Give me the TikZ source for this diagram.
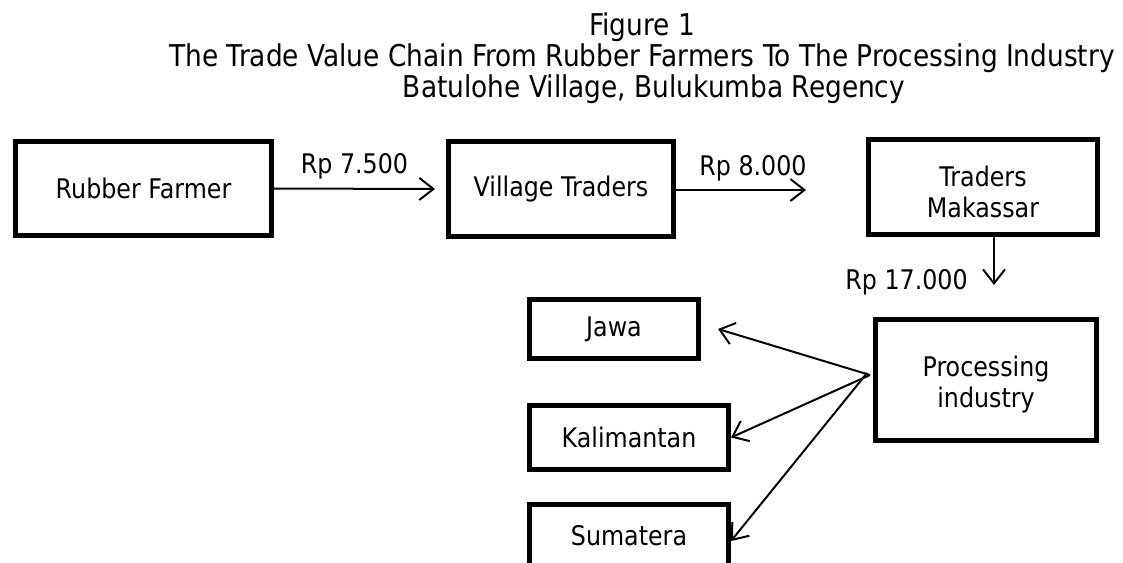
\documentclass[tikz,border=0pt]{standalone}
\usepackage{fontspec}
\setmainfont{DejaVu Sans}[FakeStretch=0.88]
\usetikzlibrary{arrows.meta}
\tikzset{
  chainbox/.style={draw, line width=5pt, inner sep=0pt, align=center,
    font=\fontsize{27}{31}\selectfont},
  flow/.style={line width=2pt, -{Straight Barb[length=14pt,width=22pt,line width=2pt]}},
  price/.style={font=\fontsize{27}{31}\selectfont}
}
\begin{document}
\begin{tikzpicture}[x=1pt,y=-1pt]
  \useasboundingbox (0,0) rectangle (1123,562);
  \clip (0,0) rectangle (1123,562);
  % title
  \node (title) at (642,58) [align=center, font=\fontsize{30}{31}\selectfont]
    {Figure 1\\The Trade Value Chain From Rubber Farmers To The Processing Industry\\\hspace*{24pt}Batulohe Village, Bulukumba Regency};
  % chain
  \node (farmer) at (143.5,188.5) [chainbox, minimum width=256pt, minimum height=94pt] {Rubber Farmer};
  \node (village) at (561,189) [chainbox, minimum width=225pt, minimum height=95pt] {Village Traders};
  \node (makassar) at (983,187) [chainbox, minimum width=229pt, minimum height=95pt] {\rule{0pt}{30pt}Traders\\Makassar};
  \node (industry) at (986,380) [chainbox, minimum width=221pt, minimum height=121pt] {\rule{0pt}{30pt}Processing\\industry};
  \node (jawa) at (614,329) [chainbox, minimum width=169pt, minimum height=59pt] {Jawa};
  \node (kalimantan) at (629,437.5) [chainbox, minimum width=199pt, minimum height=64pt] {Kalimantan};
  \node (sumatera) at (629,536) [chainbox, minimum width=199pt, minimum height=64pt] {Sumatera};
  % arrow ends
  \coordinate (tipA) at (435,189);
  \coordinate (tipB) at (806,190);
  \coordinate (tipC) at (994,285);
  \coordinate (hub) at (870,375);
  % prices
  \draw[flow] (farmer.east) -- node[price, midway, above=5pt] (pA) {Rp 7.500} (tipA);
  \draw[flow] (village.east |- tipB) -- node[price, midway, above=5pt, xshift=12pt] (pB) {Rp 8.000} (tipB);
  \draw[flow] ([xshift=11pt]makassar.south) -- (tipC) node[price, left=22pt, yshift=3pt] (pC) {Rp 17.000};
  % distribution
  \draw[flow] (hub) -- ([xshift=17pt]jawa.east);
  \draw[flow] (hub) -- (kalimantan.east);
  \draw[flow] ([xshift=-3pt,yshift=2pt]hub) -- ([yshift=-5pt]sumatera.east);
\end{tikzpicture}
\end{document}
